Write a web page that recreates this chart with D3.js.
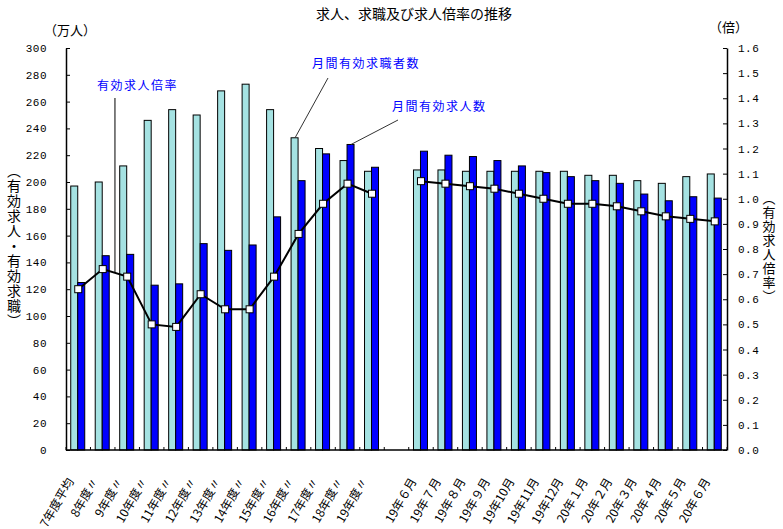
<!DOCTYPE html>
<html>
<head>
<meta charset="utf-8">
<script src="https://cdn.jsdelivr.net/npm/d3@7"></script>
<style>
  body { margin: 0; background: #fff; }
  svg { display: block; }
  .jp { font-family: "Noto Sans CJK JP", sans-serif; }
  .num { font-family: "Liberation Mono", monospace; font-size: 11px; letter-spacing: 0.5px; }
</style>
</head>
<body>
<div class="chart"></div>
<script>
// 年度（年度平均）と月次のカテゴリ
const annualLabels = ['7年度平均', ' 8年度〃', ' 9年度〃', '10年度〃', '11年度〃', '12年度〃', '13年度〃',
                      '14年度〃', '15年度〃', '16年度〃', '17年度〃', '18年度〃', '19年度〃'];
const monthLabels = ['19年６月', '19年７月', '19年８月', '19年９月', '19年10月', '19年11月', '19年12月',
                     '20年１月', '20年２月', '20年３月', '20年４月', '20年５月', '20年６月'];

// 月間有効求職者数（万人）
const seekersAnnual = [197, 200, 212, 246, 254, 250, 268, 273, 254, 233, 225, 216, 208];
const seekersMonthly = [209, 209, 208, 208, 208, 208, 208, 205, 205, 201, 199, 204, 206];
// 月間有効求人数（万人）
const offersAnnual = [125, 145, 146, 123, 124, 154, 149, 153, 174, 201, 221, 228, 211];
const offersMonthly = [223, 220, 219, 216, 212, 207, 204, 201, 199, 191, 186, 189, 188];
// 有効求人倍率（倍）
const ratioAnnual = [0.64, 0.72, 0.69, 0.50, 0.49, 0.62, 0.56, 0.56, 0.69, 0.86, 0.98, 1.06, 1.02];
const ratioMonthly = [1.07, 1.06, 1.05, 1.04, 1.02, 1.00, 0.98, 0.98, 0.97, 0.95, 0.93, 0.92, 0.91];

const leftTicks = d3.range(0, 301, 20);
const rightTicks = d3.range(0, 17).map(d => d / 10);

const W = 783, H = 529;
const margin = {top: 48, right: 56, bottom: 79, left: 66};
const plotW = W - margin.left - margin.right;
const plotH = H - margin.top - margin.bottom;

const lightColor = '#a5e2e2';
const darkColor = '#0000ff';

const gap = ' ';
const rows = annualLabels.map((c, i) => ({cat: c, seekers: seekersAnnual[i], offers: offersAnnual[i], ratio: ratioAnnual[i]}))
  .concat(monthLabels.map((c, i) => ({cat: c, seekers: seekersMonthly[i], offers: offersMonthly[i], ratio: ratioMonthly[i]})));

const svg = d3.select('.chart').append('svg')
  .attr('width', W).attr('height', H);

const g = svg.append('g')
  .attr('transform', `translate(${margin.left},${margin.top})`);

const x = d3.scaleBand()
  .domain(annualLabels.concat([gap], monthLabels))
  .range([0, plotW])
  .padding(0);

const yL = d3.scaleLinear().domain([0, 300]).range([plotH, 0]);
const yR = d3.scaleLinear().domain([0, 1.6]).range([plotH, 0]);

const barW = 7;
const cx = c => x(c) + x.bandwidth() / 2;

// bars
g.selectAll('rect.seek')
  .data(rows)
  .enter().append('rect')
  .attr('class', 'seek')
  .attr('x', d => cx(d.cat) - barW - 0.5)
  .attr('y', d => yL(d.seekers))
  .attr('width', barW)
  .attr('height', d => plotH - yL(d.seekers))
  .attr('fill', lightColor)
  .attr('stroke', '#000')
  .attr('stroke-width', 1);

g.selectAll('rect.offer')
  .data(rows)
  .enter().append('rect')
  .attr('class', 'offer')
  .attr('x', d => cx(d.cat) - 0.5)
  .attr('y', d => yL(d.offers))
  .attr('width', barW)
  .attr('height', d => plotH - yL(d.offers))
  .attr('fill', darkColor)
  .attr('stroke', '#000')
  .attr('stroke-width', 1);

// ratio line, two pieces (no line across the gap)
const line = d3.line()
  .x(d => cx(d.cat))
  .y(d => yR(d.ratio));

[rows.slice(0, annualLabels.length), rows.slice(annualLabels.length)].forEach(part => {
  g.append('path')
    .datum(part)
    .attr('fill', 'none')
    .attr('stroke', '#000')
    .attr('stroke-width', 2)
    .attr('d', line);
});

g.selectAll('rect.mark')
  .data(rows)
  .enter().append('rect')
  .attr('class', 'mark')
  .attr('x', d => cx(d.cat) - 3.5)
  .attr('y', d => yR(d.ratio) - 3.5)
  .attr('width', 7)
  .attr('height', 7)
  .attr('fill', '#fff')
  .attr('stroke', '#000')
  .attr('stroke-width', 1);

// axes
const yAxisL = d3.axisLeft(yL)
  .tickValues(leftTicks)
  .tickSizeInner(-4)
  .tickSizeOuter(0)
  .tickPadding(19)
  .tickFormat(d3.format('d'));

const yAxisR = d3.axisRight(yR)
  .tickValues(rightTicks)
  .tickSizeInner(-4)
  .tickSizeOuter(0)
  .tickPadding(11)
  .tickFormat(d3.format('.1f'));

g.append('g')
  .attr('class', 'axis y-left num')
  .call(yAxisL);

g.append('g')
  .attr('class', 'axis y-right num')
  .attr('transform', `translate(${plotW},0)`)
  .call(yAxisR);

g.selectAll('.axis .domain').attr('stroke', '#000').attr('stroke-width', 1.5);
g.selectAll('.axis text').attr('fill', '#000').attr('font-family', '"Liberation Mono", monospace').attr('font-size', 11);
g.selectAll('.axis line').attr('stroke', '#000');

// bottom axis with small inside ticks at category boundaries
const boundaries = x.domain().map(c => x(c)).concat([plotW]);
g.append('line')
  .attr('x1', 0).attr('x2', plotW)
  .attr('y1', plotH).attr('y2', plotH)
  .attr('stroke', '#000').attr('stroke-width', 1.5);
g.selectAll('line.xtick')
  .data(boundaries)
  .enter().append('line')
  .attr('class', 'xtick')
  .attr('x1', d => d).attr('x2', d => d)
  .attr('y1', plotH).attr('y2', plotH - 3)
  .attr('stroke', '#000');

// rotated category labels
g.selectAll('text.xlab')
  .data(rows)
  .enter().append('text')
  .attr('class', 'xlab jp')
  .attr('transform', d => `translate(${cx(d.cat) - 4},${plotH + 31}) rotate(-60)`)
  .attr('text-anchor', 'end')
  .attr('font-size', 12)
  .text(d => d.cat);

// titles
svg.append('text')
  .attr('class', 'jp')
  .attr('x', 316).attr('y', 19)
  .attr('font-size', 14)
  .text('求人、求職及び求人倍率の推移');

svg.append('text')
  .attr('class', 'jp')
  .attr('x', 44).attr('y', 35)
  .attr('font-size', 13)
  .text('（万人）');

svg.append('text')
  .attr('class', 'jp')
  .attr('x', 709).attr('y', 32)
  .attr('font-size', 13)
  .text('（倍）');

svg.append('text')
  .attr('class', 'jp')
  .attr('x', 14).attr('y', 164)
  .attr('writing-mode', 'vertical-rl')
  .attr('font-size', 14)
  .attr('letter-spacing', 1)
  .text('（有効求人・有効求職）');

svg.append('text')
  .attr('class', 'jp')
  .attr('x', 769).attr('y', 192)
  .attr('writing-mode', 'vertical-rl')
  .attr('font-size', 13)
  .attr('letter-spacing', 1)
  .text('（有効求人倍率）');

// annotations with leader lines
const notes = g.append('g').attr('class', 'notes');

// 有効求人倍率 -> between 8年度 and 9年度 markers
const r1 = rows[1], r2 = rows[2];
notes.append('line')
  .attr('x1', (cx(r1.cat) + cx(r2.cat)) / 2).attr('y1', 98 - margin.top)
  .attr('x2', (cx(r1.cat) + cx(r2.cat)) / 2).attr('y2', (yR(r1.ratio) + yR(r2.ratio)) / 2)
  .attr('stroke', '#000').attr('stroke-width', 1);
notes.append('text')
  .attr('class', 'jp')
  .attr('x', 97 - margin.left).attr('y', 90 - margin.top)
  .attr('fill', darkColor).attr('font-size', 12).attr('letter-spacing', 1.5)
  .text('有効求人倍率');

// 月間有効求職者数 -> 16年度 light bar
const r16 = rows[9];
notes.append('line')
  .attr('x1', 328 - margin.left).attr('y1', 78 - margin.top)
  .attr('x2', cx(r16.cat) - barW / 2).attr('y2', yL(r16.seekers))
  .attr('stroke', '#333').attr('stroke-width', 1);
notes.append('text')
  .attr('class', 'jp')
  .attr('x', 312 - margin.left).attr('y', 68 - margin.top)
  .attr('fill', darkColor).attr('font-size', 12).attr('letter-spacing', 1.5)
  .text('月間有効求職者数');

// 月間有効求人数 -> 18年度 dark bar
const r18 = rows[11];
notes.append('line')
  .attr('x1', 398 - margin.left).attr('y1', 120 - margin.top)
  .attr('x2', cx(r18.cat) + barW / 2).attr('y2', yL(r18.offers))
  .attr('stroke', '#333').attr('stroke-width', 1);
notes.append('text')
  .attr('class', 'jp')
  .attr('x', 392 - margin.left).attr('y', 111 - margin.top)
  .attr('fill', darkColor).attr('font-size', 12).attr('letter-spacing', 1.5)
  .text('月間有効求人数');
</script>
</body>
</html>
